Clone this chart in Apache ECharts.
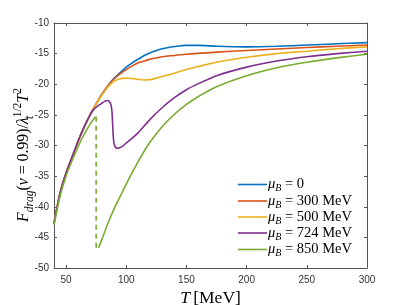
<!DOCTYPE html>
<html><head><meta charset="utf-8">
<script src="https://cdn.jsdelivr.net/npm/echarts@6/dist/echarts.min.js"></script>
<style>html,body{margin:0;padding:0;background:#fff}#c{width:407px;height:305px}</style>
</head><body><div id="c"></div>
<script>
// ---- data ----
const xTicks = [50, 100, 150, 200, 250, 300];
const yTicks = [-50, -45, -40, -35, -30, -25, -20, -15, -10];
const seriesNames = ['μB = 0', 'μB = 300 MeV', 'μB = 500 MeV', 'μB = 724 MeV', 'μB = 850 MeV'];
const colors = ['#0072BD', '#D95319', '#EDB120', '#7E2F8E', '#77AC30'];

const T_main = [40,45,50,55,60,65,70,75,80,85,90,95,100,105,110,115,120,125,130,140,150,160,175,200,225,250,275,300];
const F_mu0 = [-42.7,-37.8,-34.5,-31.9,-29.3,-27.0,-25.0,-23.2,-21.6,-20.2,-19.0,-18.1,-17.2,-16.5,-15.9,-15.3,-14.85,-14.5,-14.2,-13.85,-13.65,-13.65,-13.8,-13.9,-13.8,-13.6,-13.4,-13.2];
const F_mu300 = [-42.7,-37.8,-34.5,-31.9,-29.3,-27.0,-25.0,-23.2,-21.6,-20.2,-19.1,-18.3,-17.6,-17.0,-16.5,-16.2,-15.9,-15.7,-15.5,-15.3,-15.1,-14.95,-14.75,-14.5,-14.25,-14.0,-13.8,-13.6];
const F_mu500 = [-42.7,-37.8,-34.5,-31.9,-29.3,-27.0,-25.0,-23.2,-21.7,-20.4,-19.5,-19.1,-19.0,-19.05,-19.2,-19.3,-19.25,-19.0,-18.75,-18.2,-17.6,-17.1,-16.4,-15.6,-15.0,-14.6,-14.2,-13.9];

const T_mu724 = [40,45,50,55,60,65,70,73,76,79,82,84,85.5,86.5,87.5,88.2,88.7,89.2,89.8,90.8,92.5,94,97,100,105,110,120,130,140,150,160,175,200,225,250,275,300];
const F_mu724 = [-42.7,-37.8,-34.5,-31.9,-29.3,-27.0,-25.0,-24.1,-23.6,-23.2,-22.8,-22.65,-22.7,-23.0,-23.5,-24.6,-26.5,-28.4,-29.6,-30.2,-30.45,-30.4,-30.1,-29.6,-28.8,-27.9,-25.7,-23.8,-22.2,-20.9,-19.9,-18.6,-17.2,-16.2,-15.5,-15.0,-14.6];

const T_mu850a = [40,45,50,55,60,65,70,74.5];
const F_mu850a = [-43.0,-38.3,-35.0,-32.5,-30.2,-28.2,-26.5,-25.3];
const T_mu850b = [77,80,85,90,95,100,105,110,115,120,130,140,150,160,175,200,225,250,275,300];
const F_mu850b = [-46.7,-45.2,-42.6,-40.3,-38.3,-36.3,-34.4,-32.6,-30.9,-29.4,-26.9,-24.9,-23.3,-22.0,-20.4,-18.6,-17.3,-16.4,-15.7,-15.1];

const T_jump = [75, 75];
const F_jump = [-25.3, -46.7];

// ---- chart ----
const zip = (a, b) => a.map((x, i) => [x, b[i]]);
const chart = echarts.init(document.getElementById('c'), null, {renderer: 'canvas'});
const serif = 'Liberation Serif, DejaVu Serif, serif';
const axisCol = '#555';
const tickFont = {fontFamily: 'Liberation Sans, Arial, sans-serif', fontSize: 10, color: '#333'};

function lineSeries(name, data, color) {
  return {type: 'line', name, data, showSymbol: false, symbol: 'none', smooth: 0.3,
    lineStyle: {color, width: 1.6}, itemStyle: {color}, animation: false, z: 3};
}

const series = [
  lineSeries(seriesNames[0], zip(T_main, F_mu0), colors[0]),
  lineSeries(seriesNames[1], zip(T_main, F_mu300), colors[1]),
  lineSeries(seriesNames[2], zip(T_main, F_mu500), colors[2]),
  Object.assign(lineSeries(seriesNames[3], zip(T_mu724, F_mu724), colors[3]), {smooth: 0.2}),
  lineSeries(seriesNames[4], zip(T_mu850a, F_mu850a), colors[4]),
  lineSeries(seriesNames[4], zip(T_mu850b, F_mu850b), colors[4]),
  {type: 'line', name: 'jump', data: zip(T_jump, F_jump), showSymbol: false, symbol: 'none',
   lineStyle: {color: colors[4], width: 1.6, type: [5, 4]}, animation: false, z: 2}
];

const legendRich = {
  m: {fontFamily: serif, fontStyle: 'italic', fontSize: 14.5, color: '#000', verticalAlign: 'middle', lineHeight: 18},
  s: {fontFamily: serif, fontStyle: 'italic', fontSize: 10, color: '#000', verticalAlign: 'bottom', lineHeight: 18},
  n: {fontFamily: serif, fontSize: 14.5, color: '#000', verticalAlign: 'middle', lineHeight: 18}
};
const rowY = [184, 200.5, 216.5, 232.5, 249];
const legends = seriesNames.map((nm, i) => ({
  data: [nm], left: 238, top: rowY[i] - 7, padding: 0, itemGap: 0,
  icon: 'rect', itemWidth: 29, itemHeight: 1.6,
  formatter: (n) => '{m|μ}{s|B}{n|' + n.slice(2) + '}',
  textStyle: {rich: legendRich, padding: [0, 0, 0, -4]},
  selectedMode: false
}));

const xNameRich = {
  i: {fontFamily: serif, fontStyle: 'italic', fontSize: 17.5, color: '#000', verticalAlign: 'middle', lineHeight: 28},
  n: {fontFamily: serif, fontSize: 17.5, color: '#000', verticalAlign: 'middle', lineHeight: 28}
};
const yNameRich = {
  i: {fontFamily: serif, fontStyle: 'italic', fontSize: 15.8, fill: '#000', verticalAlign: 'middle', lineHeight: 26},
  n: {fontFamily: serif, fontSize: 15.8, fill: '#000', verticalAlign: 'middle', lineHeight: 26},
  sub: {fontFamily: serif, fontStyle: 'italic', fontSize: 11.5, fill: '#000', verticalAlign: 'bottom', lineHeight: 26, padding: [0, 0, 1, 0]},
  subz: {fontFamily: serif, fontStyle: 'italic', fontSize: 11.5, fill: '#000', verticalAlign: 'bottom', lineHeight: 26, padding: [0, 0, 1, 0], width: 0},
  sup: {fontFamily: serif, fontSize: 11.5, fill: '#000', verticalAlign: 'top', lineHeight: 26, padding: [1, 0, 0, 0]}
};

const option = {
  backgroundColor: '#fff',
  animation: false,
  grid: {left: 54, right: 40, top: 23, bottom: 37, show: false, containLabel: false, outerBoundsMode: 'none'},
  legend: legends,
  graphic: [{
    type: 'text', x: 24, y: 155, rotation: Math.PI / 2, silent: true,
    style: {
      text: '{i|F}{sub|drag}{n|(}{i|v}{n| = 0.99)/}{i|λ}{subz|t}{sup|1/2}{i|T}{sup|2}',
      rich: yNameRich, align: 'center', verticalAlign: 'middle'
    }
  }],
  xAxis: [{
    type: 'value', min: 40, max: 300, position: 'bottom',
    axisLine: {show: true, lineStyle: {color: axisCol, width: 1}},
    axisTick: {show: true, inside: true, length: 3, customValues: xTicks, lineStyle: {color: axisCol}},
    axisLabel: {customValues: xTicks, margin: 7, ...tickFont},
    splitLine: {show: false},
    name: '{i|T} {n|[MeV]}', nameLocation: 'middle', nameGap: 14,
    nameTextStyle: {rich: xNameRich}
  }, {
    type: 'value', min: 40, max: 300, position: 'top',
    axisLine: {show: true, lineStyle: {color: axisCol, width: 1}},
    axisTick: {show: true, inside: true, length: 3, customValues: xTicks, lineStyle: {color: axisCol}},
    axisLabel: {show: false}, splitLine: {show: false}
  }],
  yAxis: [{
    type: 'value', min: -50, max: -10, interval: 5, position: 'left',
    axisLine: {show: true, lineStyle: {color: axisCol, width: 1}},
    axisTick: {show: true, inside: true, length: 3, lineStyle: {color: axisCol}},
    axisLabel: {margin: 5, ...tickFont, formatter: (v) => String(v)},
    splitLine: {show: false}
  }, {
    type: 'value', min: -50, max: -10, interval: 5, position: 'right',
    axisLine: {show: true, lineStyle: {color: axisCol, width: 1}},
    axisTick: {show: true, inside: true, length: 3, lineStyle: {color: axisCol}},
    axisLabel: {show: false}, splitLine: {show: false}
  }],
  series
};
chart.setOption(option);
</script></body></html>
